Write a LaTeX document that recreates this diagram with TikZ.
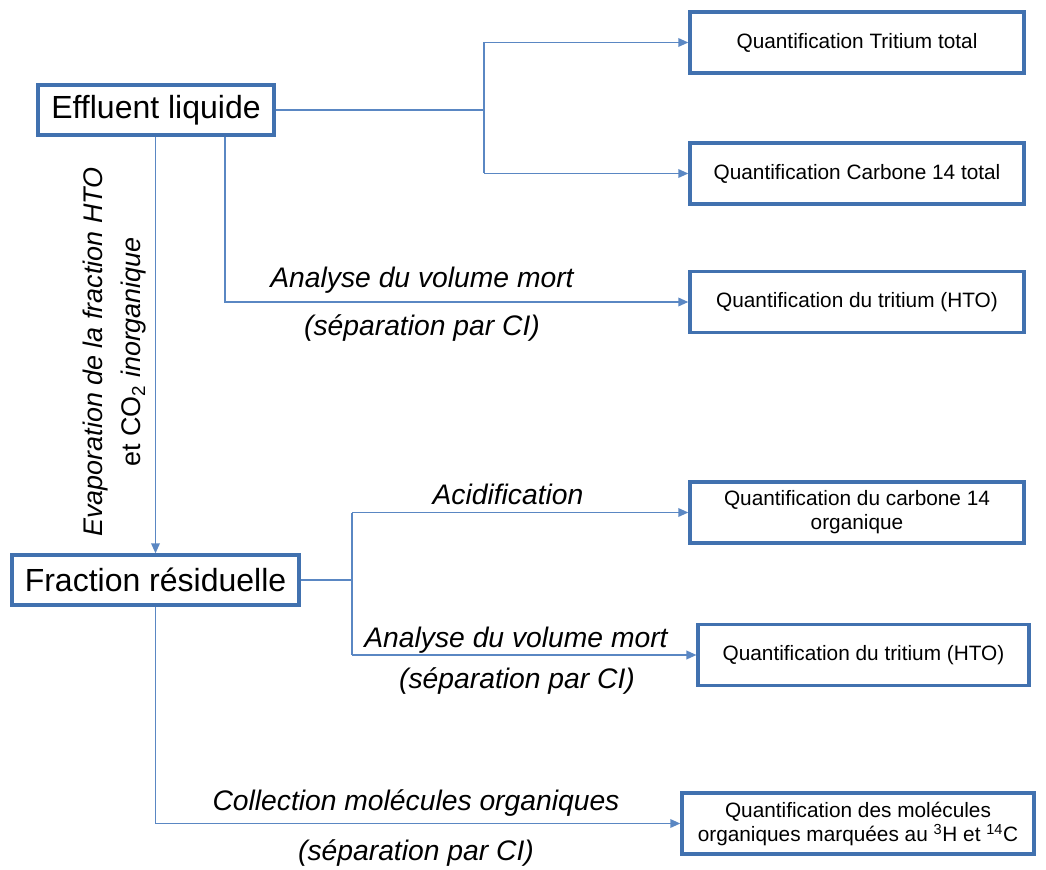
\documentclass[tikz,border=0pt]{standalone}
\usepackage{fontspec}
\setmainfont{Liberation Sans}
\usetikzlibrary{arrows, arrows.meta}
\definecolor{cadre}{RGB}{65,113,175}
\definecolor{trait}{RGB}{90,135,195}

\begin{document}
\begin{tikzpicture}[x=0.75pt, y=-0.75pt,
  grand/.style={draw=cadre, line width=2.6pt, inner sep=0pt, minimum height=37.5pt, font=\fontsize{24}{28}\selectfont},
  quantif/.style={draw=cadre, line width=2.6pt, inner sep=0pt, minimum height=45.5pt, align=center, font=\fontsize{15.6}{18}\selectfont},
  etape/.style={inner sep=0pt, font=\fontsize{21.2}{25}\selectfont\itshape},
  ligne/.style={draw=trait, line width=1.1pt},
  fleche/.style={ligne, -{Triangle[length=7.5pt,width=6.5pt]}}]
\useasboundingbox (0,0) rectangle (1046,870);

% boites
\node[grand, minimum width=177pt] (eff) at (156,110) {Effluent liquide};
\node[grand, minimum width=215pt] (frac) at (155.5,580) {Fraction résiduelle};
\node[quantif, minimum width=250.5pt] (qtt) at (857,42.5) {Quantification Tritium total};
\node[quantif, minimum width=250.5pt] (qc14) at (857,173.5) {Quantification Carbone 14 total};
\node[quantif, minimum width=250.5pt] (qhtoA) at (857,302) {Quantification du tritium (HTO)};
\node[quantif, minimum width=250.5pt] (qorg) at (857,512.5) {Quantification du carbone 14\\organique};
\node[quantif, minimum width=248pt] (qhtoB) at (863.5,655) {Quantification du tritium (HTO)};
\node[quantif, minimum width=264pt] (qmol) at (858,823.5) {Quantification des molécules\\organiques marquées au \textsuperscript{3}H et \textsuperscript{14}C};

% points de branchement
\coordinate (jeff) at (484,110);
\coordinate (dvm) at (225,0);
\coordinate (jfrac) at (352,580);

% liaisons
\draw[ligne] (eff.east) -- (jeff);
\draw[ligne] (jeff |- qtt.west) -- (jeff |- qc14.west);
\draw[fleche] (jeff |- qtt.west) -- (qtt.west);
\draw[fleche] (jeff |- qc14.west) -- (qc14.west);
\draw[fleche] (eff.south -| dvm) |- (qhtoA.west);
\draw[fleche] (eff.south -| frac.north) -- (frac.north);
\draw[ligne] (frac.east) -- (jfrac);
\draw[ligne] (jfrac |- qorg.west) -- (jfrac |- qhtoB.west);
\draw[fleche] (jfrac |- qorg.west) -- (qorg.west);
\draw[fleche] (jfrac |- qhtoB.west) -- (qhtoB.west);
\draw[fleche] (frac.south) |- (qmol.west);

% etiquettes
\node[etape] (lblA) at (422,280) {Analyse du volume mort};
\node[etape] (lblB) at (422,328) {(séparation par CI)};
\node[etape] (lblC) at (508,494) {Acidification};
\node[etape] (lblD) at (516,640) {Analyse du volume mort};
\node[etape] (lblE) at (517,681) {(séparation par CI)};
\node[etape] (lblF) at (416,803) {Collection molécules organiques};
\node[etape] (lblG) at (416,853) {(séparation par CI)};
\node[rotate=90, align=center, inner sep=0pt, font=\fontsize{20.2}{28.5}\selectfont\itshape] (evap) at (115,352)
  {Evaporation de la fraction HTO\\{\upshape et CO\textsubscript{2}} inorganique};
\end{tikzpicture}
\end{document}
